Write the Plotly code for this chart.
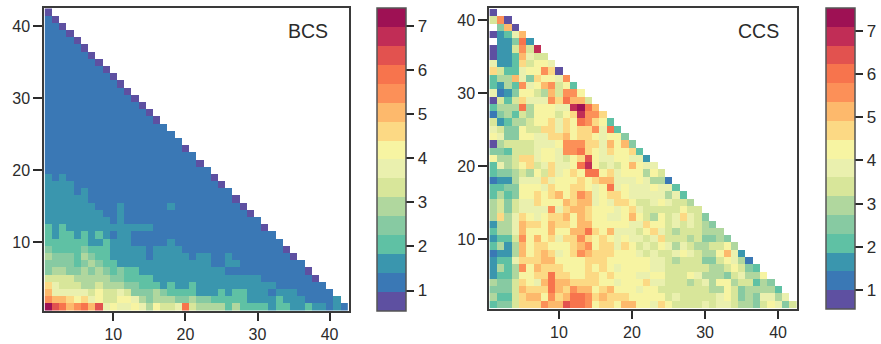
import plotly.graph_objects as go

# Colour bands, lowest to highest
band_colors = ["#5E50A1", "#3A78B5", "#3A96AE", "#5FC1A4", "#87CAA2", "#B0D79E",
               "#D8E69A", "#EAF0AE", "#F7F4A2", "#FCD984", "#FDB96C", "#FC9058",
               "#F7744D", "#E2524F", "#C12D56", "#9E1154"]

# Band code for each cell (hex digit); '.' = no value. First string is y=1, x runs from 1.
bcs_bands = [
    "fdcabcad78778758667c6555535333323322322121",
    "baa98978668875455544544333332222322211112",
    "a777776866764445433332223233222122211111",
    "976665565554433323223222222222221111111",
    "66665555544333322222222222222211111110",
    "4554454543433222222222222111111111110",
    "444434543322222222222221122111111111",
    "54443543322222122222122112111111110",
    "4333343332222212222111111111111110",
    "333333223222111112111111111111111",
    "32332323212211111111111111111111",
    "3232222222222221111111111111110",
    "222222222121111111111111111111",
    "22222222112111111111111111110",
    "2222222111211111121111111110",
    "222222111111111111111111110",
    "22221211111111111111111111",
    "2222111111111111111111110",
    "212111111111111111111110",
    "11111111111111111111111",
    "1111111111111111111110",
    "111111111111111111111",
    "11111111111111111110",
    "1111111111111111111",
    "111111111111111111",
    "11111111111111111",
    "1111111111111110",
    "111111111111110",
    "11111111111110",
    "1111111111110",
    "111111111110",
    "11111111110",
    "1111111110",
    "111111110",
    "11111110",
    "1111110",
    "111110",
    "11110",
    "1110",
    "110",
    "10",
    "0",
]

ccs_bands = [
    "3446999baadccb8998aa8879866667677655468746",
    "53369aa8b9accb9a9998888867666667864547757",
    "4446a999ca9baa89a88878866666665586455553",
    "5446987acaa9999887888977666567588566354",
    "23358899c99889989888778866687555467558",
    "2535b8a999888989878888776666665568643",
    "2337999aa888899988888877656664468751",
    "1225a89a9789ba999888767667876558a72",
    "3525a8998889ab89979867687576556685",
    "2336b8a89799b98987877679666564454",
    "3557a888a88aac98a777689765666555",
    "2557a998a998aa88888779886767654",
    "5957987899a8a988778a8658679764",
    "56467777b79aa9888789766666866",
    "5646779888a9aa78799866787665",
    "353488989a89ba7899877777573",
    "3344888798899878c787778773",
    "122577797888989aa77787551",
    "3445658697898cc897888586",
    "375689679778ce86768a877",
    "8556997887689d87788772",
    "4436667887bbc98798893",
    "0566667778bbb997a8a4",
    "8744887799a89987884",
    "76448669979899b7c3",
    "623556889798cb983",
    "145365888689ebb9",
    "3555c588877efca",
    "06369777b9caa6",
    "71248865a6bb8",
    "3253b78ab683",
    "355a749887b",
    "9633788b90",
    "722396887",
    "0223a766",
    "0226b6e",
    ".224c2",
    "0237a",
    ".4a0",
    "6b0",
    "0",
]

bcs_range = (0.535, 7.41)
ccs_range = (0.56, 7.525)
colorbar_ticks = [1, 2, 3, 4, 5, 6, 7]
axis_ticks = [10, 20, 30, 40]

W, H = 881, 344
INK = "#2b2b2b"


def grid(rows, rng):
    width = (rng[1] - rng[0]) / len(band_colors)
    out = []
    for row in rows:
        vals = []
        for c in range(42):
            ch = row[c] if c < len(row) else "."
            vals.append(None if ch == "." else rng[0] + width * (int(ch, 16) + 0.5))
        out.append(vals)
    return out


n = len(band_colors)
scale = []
for i, col in enumerate(band_colors):
    scale += [[i / n, col], [(i + 1) / n, col]]

fig = go.Figure()


def panel(rows, rng, name, xa, ya, box, xr, yr, bar, label_xy):
    x0, x1, y0, y1 = box
    bx0, bx1, by0, by1 = bar
    fig.add_trace(go.Heatmap(
        z=grid(rows, rng),
        x=list(range(1, 43)), y=list(range(1, len(rows) + 1)),
        zmin=rng[0], zmax=rng[1], colorscale=scale, hoverongaps=False,
        xaxis=xa, yaxis=ya,
        colorbar=dict(
            x=bx0 / W, xanchor="left", xpad=0, ypad=0,
            y=1 - by1 / H, yanchor="bottom",
            lenmode="pixels", len=by1 - by0, thicknessmode="pixels", thickness=bx1 - bx0,
            tickmode="array", tickvals=colorbar_ticks, ticktext=[str(t) for t in colorbar_ticks],
            tickprefix="\u00a0",
            ticks="outside", ticklen=8, tickwidth=1.5, tickcolor=INK,
            tickfont=dict(family="Liberation Sans", size=17, color=INK),
            outlinecolor="#555555", outlinewidth=1.5, ticklabelposition="outside",
        ),
    ))
    axstyle = dict(showgrid=False, zeroline=False, showline=True, mirror=True,
                   linecolor="#3a3a3a", linewidth=1.5, ticks="outside", tickwidth=1.5,
                   tickcolor=INK, tickmode="array", tickvals=axis_ticks,
                   tickfont=dict(family="Liberation Sans", size=16, color=INK))
    fig.update_layout({
        ("xaxis" if xa == "x" else "xaxis" + xa[1:]): dict(
            domain=[x0 / W, x1 / W], range=xr, anchor=ya, ticklen=8, **axstyle),
        ("yaxis" if ya == "y" else "yaxis" + ya[1:]): dict(
            domain=[1 - y1 / H, 1 - y0 / H], range=yr, anchor=xa, ticklen=9, **axstyle),
    })
    fig.add_annotation(text=name, x=label_xy[0] / W, y=1 - label_xy[1] / H, xref="paper", yref="paper",
                       showarrow=False, xanchor="center", yanchor="middle",
                       font=dict(family="Liberation Sans", size=19.5, color=INK))


panel(bcs_bands, bcs_range, "BCS", "x", "y", (44.1, 348.7, 8, 311), [0.4, 42.65], [0.42, 42.57],
      (377, 405.5, 8, 311), (308, 31))
panel(ccs_bands, ccs_range, "CCS", "x2", "y2", (489, 797, 8, 309), [0.41, 42.6], [0.41, 41.64],
      (826, 855, 8, 309), (758, 31))

fig.update_layout(width=W, height=H, autosize=False, margin=dict(l=0, r=0, t=0, b=0),
                  paper_bgcolor="white", plot_bgcolor="white", showlegend=False)

fig.write_html("out.html", config={"displayModeBar": False},
               post_script="document.body.style.margin='0';document.body.style.overflow='hidden';")
